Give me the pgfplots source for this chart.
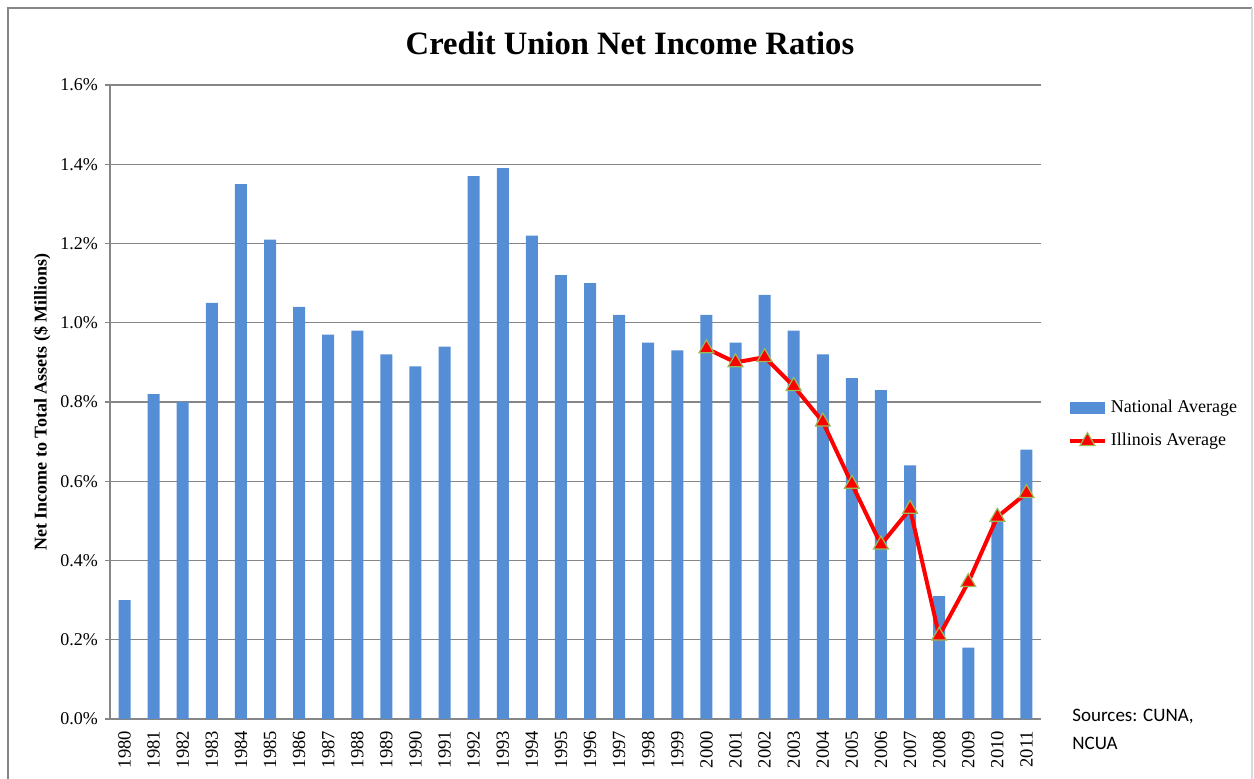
\documentclass[border=0pt]{standalone}
\usepackage{fontspec}
\setmainfont{Liberation Serif}
\newfontfamily\carlito{Carlito}
\usepackage{pgfplots}
\pgfplotsset{compat=1.18}
\definecolor{barblue}{RGB}{85,142,213}
\definecolor{gridgray}{RGB}{134,134,134}
\definecolor{markedge}{RGB}{155,187,89}
\begin{document}
\begin{tikzpicture}
\useasboundingbox (-55pt,-30pt) rectangle (572pt,359.5pt);
\draw[gridgray, line width=0.8pt] (-51pt,-40pt) -- (-51pt,355.5pt) -- (571pt,355.5pt);
\draw[gray!30, line width=0.8pt] (571pt,355.5pt) -- (571pt,-40pt);
\begin{axis}[
  at={(0,0)}, anchor=south west,
  scale only axis, width=465.5pt, height=317pt,
  xmin=-0.5, xmax=31.5, ymin=0, ymax=1.6,
  axis lines=left, axis line style={-, gridgray, line width=0.8pt},
  ytick={0,0.2,...,1.6},
  ymajorgrids, grid style={gridgray, line width=0.7pt},
  yticklabel={\pgfmathprintnumber[fixed,fixed zerofill,precision=1]{\tick}\%},
  /pgf/number format/assume math mode=true,
  tick align=outside, major tick length=2.5pt,
  tick style={gridgray, line width=0.7pt},
  ticklabel style={font=\fontsize{9}{10}\selectfont},
  xtick={0,...,31},
  xticklabel={\pgfmathparse{int(1980+\tick)}\pgfmathresult},
  xticklabel style={rotate=90, anchor=east, xshift=0pt, font=\fontsize{9.3}{10}\selectfont},
  x tick style={draw=none},
  extra x ticks={-0.5,0.5,...,31.5},
  extra x tick labels={},
  extra x tick style={tick style={draw=gridgray, line width=0.7pt}, major tick length=4pt},
  ylabel={Net Income to Total Assets (\$ Millions)},
  ylabel style={at={(axis description cs:-0.073,0.5)}, anchor=center, font=\bfseries\fontsize{9}{10}\selectfont},
  legend style={at={(axis description cs:1.0285,0.4645)}, anchor=west, draw=none, fill=none,
    font=\fontsize{9}{10}\selectfont, row sep=5pt, inner sep=0pt, cells={anchor=west}},
  legend cell align=left,
]
\addplot[ybar, bar width=6pt, fill=barblue, draw=none,
  legend image code/.code={\fill[barblue] (0pt,-3pt) rectangle (17.5pt,3pt);}]
  coordinates {
  (0,0.30) (1,0.82) (2,0.80) (3,1.05) (4,1.35) (5,1.21) (6,1.04) (7,0.97)
  (8,0.98) (9,0.92) (10,0.89) (11,0.94) (12,1.37) (13,1.39) (14,1.22) (15,1.12)
  (16,1.10) (17,1.02) (18,0.95) (19,0.93) (20,1.02) (21,0.95) (22,1.07) (23,0.98)
  (24,0.92) (25,0.86) (26,0.83) (27,0.64) (28,0.31) (29,0.18) (30,0.50) (31,0.68)
  };
\addlegendentry{National Average}
\addplot[red, line width=2pt, mark=triangle*, mark size=4.3pt,
  mark options={fill=red, draw=markedge, line width=0.6pt},
  legend image code/.code={\draw[mark repeat=2,mark phase=2] plot coordinates {(0pt,0pt) (8.75pt,0pt) (17.5pt,0pt)};}]
  coordinates {
  (20,0.935) (21,0.90) (22,0.913) (23,0.84) (24,0.75) (25,0.593)
  (26,0.44) (27,0.53) (28,0.21) (29,0.345) (30,0.51) (31,0.57)
  };
\addlegendentry{Illinois Average}
\end{axis}
\node[font=\bfseries\fontsize{16.3}{18}\selectfont] at (260pt,338pt) {Credit Union Net Income Ratios};
\node[anchor=north west, align=left, inner sep=0pt, font=\carlito\fontsize{9.5}{14}\selectfont] at (481pt,5pt) {Sources: CUNA,\\NCUA};
\end{tikzpicture}
\end{document}
